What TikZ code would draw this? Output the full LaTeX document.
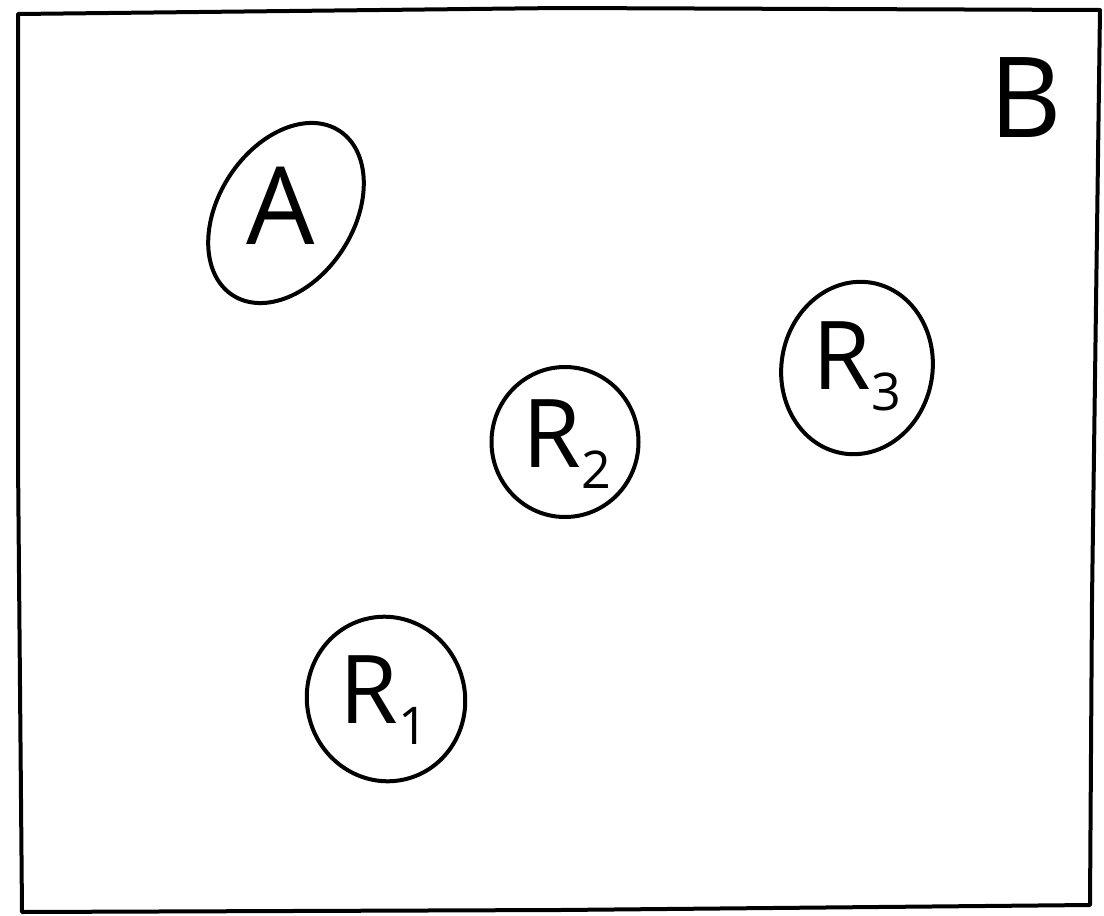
\documentclass[tikz,border=0pt]{standalone}
\usepackage{fontspec}
\setmainfont{Open Sans}
\usetikzlibrary{shapes.geometric}
\newcommand{\subdig}[1]{\raisebox{-0.22em}{\fontsize{52}{52}\selectfont #1}}
\begin{document}
\begin{tikzpicture}[x=1pt,y=-1pt,
  blob/.style={draw,line width=4pt,ellipse,inner sep=0pt},
  lbl/.style={inner sep=0pt,font=\fontsize{95}{95}\selectfont},
  frame/.style={line width=4pt,line join=round}]
\useasboundingbox (0,0) rectangle (1104,916);
\draw[frame] (18,14) -- (560,8) -- (1100,10) -- (1092,600) -- (1090,905) -- (560,910) -- (22,912) -- (18,460) -- cycle;
\node[lbl,font=\fontsize{112}{112}\selectfont] (B) at (1026,98) {B};
\node[blob,minimum width=196pt,minimum height=135pt,rotate=57] (A) at (286,213) {};
\node[lbl,font=\fontsize{108}{108}\selectfont] (Alab) at (281,206) {A};
\node[blob,minimum width=147pt,minimum height=150pt] (R2) at (565,442) {};
\node[lbl] (R2lab) at (567,444) {R\subdig{2}};
\node[blob,minimum width=151pt,minimum height=173pt,rotate=-10] (R3) at (857,368) {};
\node[lbl] (R3lab) at (857,366) {R\subdig{3}};
\node[blob,minimum width=158pt,minimum height=165pt,rotate=15] (R1) at (386,699) {};
\node[lbl] (R1lab) at (384,700) {R\subdig{1}};
\end{tikzpicture}
\end{document}
